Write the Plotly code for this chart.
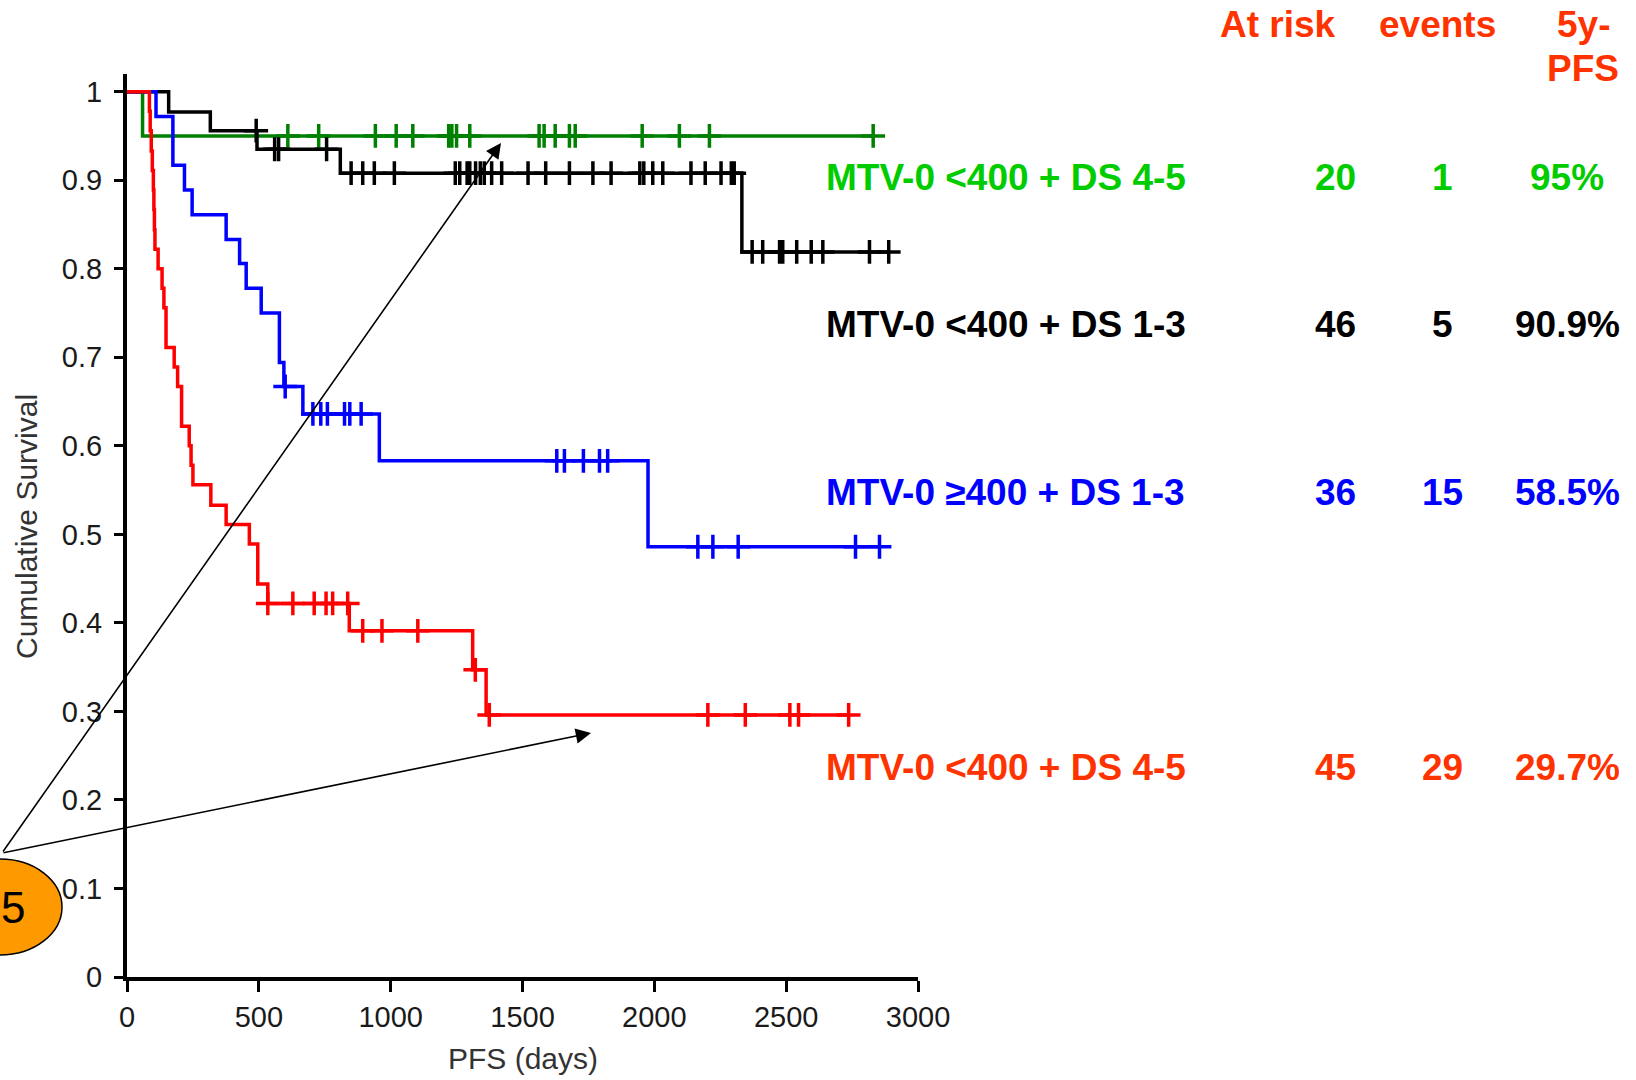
import numpy as np
import plotly.graph_objects as go

# ---------------- data ----------------
x_tick_vals = [0, 500, 1000, 1500, 2000, 2500, 3000]
y_tick_vals = [0, 0.1, 0.2, 0.3, 0.4, 0.5, 0.6, 0.7, 0.8, 0.9, 1.0]
y_tick_text = ["0", "0.1", "0.2", "0.3", "0.4", "0.5", "0.6", "0.7", "0.8", "0.9", "1"]

group_labels = ["MTV-0 <400 + DS 4-5", "MTV-0 <400 + DS 1-3",
                "MTV-0 \u2265400 + DS 1-3", "MTV-0 <400 + DS 4-5"]
at_risk = [20, 46, 36, 45]
events = [1, 5, 15, 29]
pfs_5y = ["95%", "90.9%", "58.5%", "29.7%"]
header_labels = ["At risk", "events", "5y-", "PFS"]

# Kaplan-Meier steps (days, survival after drop) and censor days
green_event_days = [59]
green_surv = [0.950]
green_censor_days = [610, 727, 942, 1021, 1084, 1220, 1232, 1250, 1300, 1563, 1582,
                     1624, 1678, 1700, 1954, 2095, 2209, 2830]

black_event_days = [158, 316, 493, 809, 2332]
black_surv = [0.977, 0.956, 0.935, 0.908, 0.819]
black_censor_days = [490, 560, 575, 757, 850, 894, 938, 1014, 1245, 1262, 1290, 1300,
                     1322, 1340, 1355, 1383, 1421, 1521, 1588, 1678, 1767, 1836, 1945,
                     1960, 1994, 2032, 2139, 2193, 2253, 2292, 2303, 2371, 2411, 2475,
                     2487, 2540, 2595, 2639, 2816, 2889]

blue_event_days = [110, 174, 218, 247, 376, 427, 452, 509, 578, 595, 667, 957, 1976]
blue_surv = [0.972, 0.917, 0.889, 0.861, 0.833, 0.806, 0.778, 0.750, 0.694, 0.667,
             0.636, 0.583, 0.486]
blue_censor_days = [600, 705, 735, 760, 825, 845, 888, 1630, 1659, 1731, 1792, 1823,
                    2165, 2222, 2318, 2763, 2854]

red_event_days = [85, 88, 92, 96, 100, 102, 104, 106, 118, 133, 140, 148, 179, 192, 207,
                  236, 243, 250, 318, 376, 464, 496, 534, 843, 1311, 1362]
red_surv = [0.978, 0.956, 0.933, 0.911, 0.889, 0.867, 0.844, 0.822, 0.800, 0.778, 0.756,
            0.711, 0.689, 0.667, 0.622, 0.600, 0.578, 0.556, 0.533, 0.511, 0.489, 0.444,
            0.422, 0.391, 0.347, 0.296]
red_censor_days = [534, 629, 710, 755, 780, 837, 894, 967, 1103, 1321, 1374, 2203, 2345,
                   2514, 2547, 2737]

line_colors = ["#008000", "#000000", "#0000FF", "#FF0000"]
label_colors = ["#00CC00", "#000000", "#0000FF", "#FF3300"]
header_color = "#FF3300"

groups = [
    (green_event_days, green_surv, green_censor_days),
    (black_event_days, black_surv, black_censor_days),
    (blue_event_days, blue_surv, blue_censor_days),
    (red_event_days, red_surv, red_censor_days),
]

# ---------------- layout geometry (pixels) ----------------
W, H = 1636, 1080
PL, PR, PT, PB = 127, 918, 74, 977   # plot area edges


def pxx(px):
    return (px - PL) / (PR - PL)


def pxy(py):
    return (PB - py) / (PB - PT)


FONT = "Liberation Sans, Arial, Helvetica, sans-serif"

fig = go.Figure()

for (ev_d, ev_s, cen_d), lc in zip(groups, line_colors):
    ev_d = np.asarray(ev_d, dtype=float)
    ev_s = np.asarray(ev_s, dtype=float)
    cen_d = np.asarray(cen_d, dtype=float)
    end_day = max(cen_d.max(), ev_d.max())
    xs = np.concatenate([[0.0], ev_d, [end_day]])
    ys = np.concatenate([[1.0], ev_s, [ev_s[-1]]])
    fig.add_trace(go.Scatter(x=xs, y=ys, mode="lines", line=dict(color=lc, width=3.5, shape="hv"),
                             hoverinfo="skip", showlegend=False))
    levels = np.concatenate([[1.0], ev_s])
    cen_y = levels[np.searchsorted(ev_d, cen_d, side="right")]
    fig.add_trace(go.Scatter(x=cen_d, y=cen_y, mode="markers",
                             marker=dict(symbol="cross-thin", size=17, color=lc,
                                         line=dict(color=lc, width=3.5)),
                             hoverinfo="skip", showlegend=False, cliponaxis=False))

annotations = []
# headers
hdr_pos = [(1278, 25), (1437, 25), (1583, 25), (1583, 69)]
for txt, (hx, hy) in zip(header_labels, hdr_pos):
    annotations.append(dict(text="<b>%s</b>" % txt, x=pxx(hx), y=pxy(hy), xref="paper", yref="paper",
                            xanchor="center", yanchor="middle", showarrow=False,
                            font=dict(family=FONT, size=37, color=header_color)))
row_y = [177, 324, 493, 767]
col_x = [1335, 1442, 1567]
for i in range(4):
    annotations.append(dict(text="<b>%s</b>" % group_labels[i], x=pxx(824), y=pxy(row_y[i]),
                            xref="paper", yref="paper", xanchor="left", yanchor="middle",
                            showarrow=False, font=dict(family=FONT, size=37, color=label_colors[i])))
    for cx, val in zip(col_x, [str(at_risk[i]), str(events[i]), pfs_5y[i]]):
        annotations.append(dict(text="<b>%s</b>" % val, x=pxx(cx), y=pxy(row_y[i]),
                                xref="paper", yref="paper", xanchor="center", yanchor="middle",
                                showarrow=False, font=dict(family=FONT, size=37, color=label_colors[i])))

# axis titles
annotations.append(dict(text="Cumulative Survival", x=pxx(26), y=pxy(527), xref="paper", yref="paper",
                        xanchor="center", yanchor="middle", textangle=-90, showarrow=False,
                        font=dict(family=FONT, size=30, color="#333333")))
annotations.append(dict(text="PFS (days)", x=pxx(523), y=pxy(1058), xref="paper", yref="paper",
                        xanchor="center", yanchor="middle", showarrow=False,
                        font=dict(family=FONT, size=30, color="#333333")))

# arrows from the bubble
tail = (2, 853)
for tip in [(501, 143), (591, 733)]:
    annotations.append(dict(text="", x=pxx(tip[0]), y=pxy(tip[1]), xref="paper", yref="paper",
                            ax=tail[0] - tip[0], ay=tail[1] - tip[1], axref="pixel", ayref="pixel",
                            showarrow=True, arrowhead=2, arrowsize=1.9, arrowwidth=1.6,
                            arrowcolor="black", standoff=0, startstandoff=0))

# number in bubble
annotations.append(dict(text="5", x=pxx(13), y=pxy(907), xref="paper", yref="paper",
                        xanchor="center", yanchor="middle", showarrow=False,
                        font=dict(family=FONT, size=44, color="black")))

shapes = [dict(type="circle", xref="paper", yref="paper", x0=pxx(-62), x1=pxx(62),
               y0=pxy(955), y1=pxy(859), fillcolor="#FF9900", line=dict(color="black", width=1.5),
               layer="below")]

fig.update_layout(
    width=W, height=H,
    margin=dict(l=PL, r=W - PR, t=PT, b=H - PB, pad=0),
    paper_bgcolor="white", plot_bgcolor="white",
    showlegend=False,
    annotations=annotations,
    shapes=shapes,
    xaxis=dict(range=[0, 3000], tickvals=x_tick_vals, ticks="outside", ticklen=11, tickwidth=3,
               tickcolor="black", showline=True, linecolor="black", linewidth=4, showgrid=False,
               zeroline=False, tickfont=dict(family=FONT, size=29, color="#1a1a1a"),
               ticklabelstandoff=0),
    yaxis=dict(range=[0, 1.02], tickvals=y_tick_vals, ticktext=y_tick_text, ticks="outside",
               ticklen=9, tickwidth=3, tickcolor="black", showline=True, linecolor="black",
               linewidth=4, showgrid=False, zeroline=False,
               tickfont=dict(family=FONT, size=29, color="#1a1a1a"), ticklabelstandoff=6),
    font=dict(family=FONT),
)

fig.write_html("out.html")
